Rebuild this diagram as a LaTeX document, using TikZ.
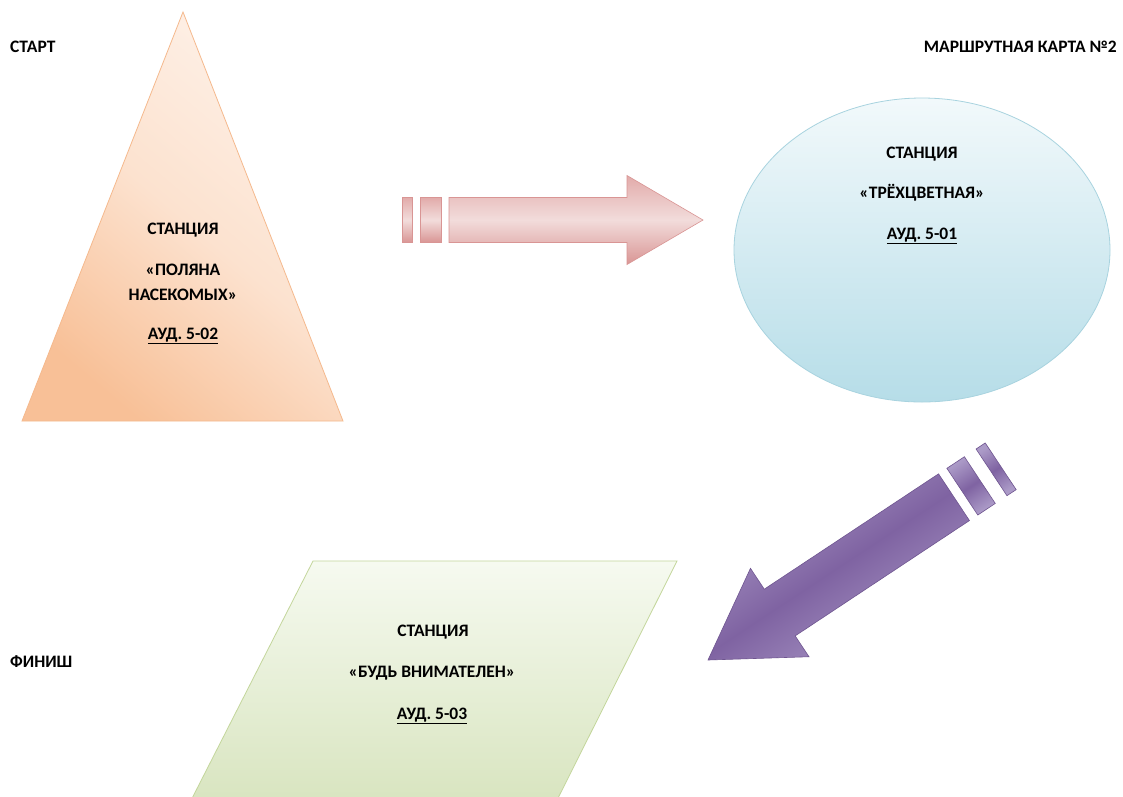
\documentclass[tikz,border=0pt]{standalone}
\usepackage{fontspec}
\setmainfont{Carlito}
\definecolor{peachD}{HTML}{F8C097}
\definecolor{peachM}{HTML}{FCE2CF}
\definecolor{peachL}{HTML}{FEF1E8}
\definecolor{peachE}{HTML}{F5B98D}
\definecolor{pinkD}{HTML}{D99594}
\definecolor{pinkM}{HTML}{E2ABAA}
\definecolor{pinkL}{HTML}{F2DCDB}
\definecolor{blueL}{HTML}{F2F9FB}
\definecolor{blueD}{HTML}{B6DDE8}
\definecolor{blueE}{HTML}{A8D3DF}
\definecolor{purpL}{HTML}{AB9AC7}
\definecolor{purpD}{HTML}{7F63A2}
\definecolor{purpE}{HTML}{6F5590}
\definecolor{greenL}{HTML}{F6FAF0}
\definecolor{greenD}{HTML}{D6E3BC}
\definecolor{greenE}{HTML}{C3D69B}
\tikzset{
  lbl/.style={font=\fontsize{17.5}{21}\selectfont\bfseries, inner sep=0pt, anchor=base},
  pinkarrow/.style={draw=pinkD, line width=0.6pt, top color=pinkM, bottom color=pinkD, middle color=pinkL},
  purparrow/.style={draw=purpE, line width=0.6pt, top color=purpL, bottom color=purpL, middle color=purpD, shading angle=33.5},
}
\begin{document}
\begin{tikzpicture}[x=1pt, y=-1pt]
\useasboundingbox (0,0) rectangle (1123,796);
\clip (0,0) rectangle (1123,796);
\fill[white] (0,0) rectangle (1123,796);

% triangle
\path[draw=peachE, line width=0.8pt, top color=peachL, bottom color=peachD, middle color=peachM, shading angle=-40]
  (183,12) -- (343,421) -- (22,421) -- cycle;

% ellipse
\path[draw=blueE, line width=0.8pt, top color=blueL, bottom color=blueD]
  (922,250) ellipse [x radius=188pt, y radius=152pt];

% parallelogram
\path[draw=greenE, line width=0.8pt, top color=greenL, bottom color=greenD]
  (313,561) -- (677,561) -- (547,820) -- (181,820) -- cycle;

% pink arrow
\begin{scope}[shift={(703,220)}, rotate=180]
  \path[pinkarrow] (0,0) -- (76,-44.5) -- (76,-22.5) -- (254,-22.5) -- (254,22.5) -- (76,22.5) -- (76,44.5) -- cycle;
  \path[pinkarrow] (262,-22.5) rectangle (283,22.5);
  \path[pinkarrow] (291,-22.5) rectangle (301,22.5);
\end{scope}

% purple arrow
\begin{scope}[shift={(708,660)}, rotate=33.5]
  \path[purparrow] (0,0) -- (86,-53) -- (86,-28) -- (295,-28) -- (295,28) -- (86,28) -- (86,53) -- cycle;
  \path[purparrow] (305,-28) rectangle (326,28);
  \path[purparrow] (340,-28) rectangle (351,28);
\end{scope}

% labels
\node[lbl, anchor=base west] (start) at (10,52) {СТАРТ};
\node[lbl, anchor=base east] (map) at (1117,52) {МАРШРУТНАЯ КАРТА №2};
\node[lbl, anchor=base west] (finish) at (10,667) {ФИНИШ};

\node[lbl] (t1) at (183,234) {СТАНЦИЯ};
\node[lbl] (t2) at (183,275) {«ПОЛЯНА};
\node[lbl] (t3) at (183,300) {НАСЕКОМЫХ»};
\node[lbl] (t4) at (183,339) {\underline{АУД. 5-02}};

\node[lbl] (e1) at (922,158) {СТАНЦИЯ};
\node[lbl] (e2) at (922,198) {«ТРЁХЦВЕТНАЯ»};
\node[lbl] (e3) at (922,239) {\underline{АУД. 5-01}};

\node[lbl] (p1) at (433,636) {СТАНЦИЯ};
\node[lbl] (p2) at (432,677) {«БУДЬ ВНИМАТЕЛЕН»};
\node[lbl] (p3) at (432,719) {\underline{АУД. 5-03}};
\end{tikzpicture}
\end{document}
